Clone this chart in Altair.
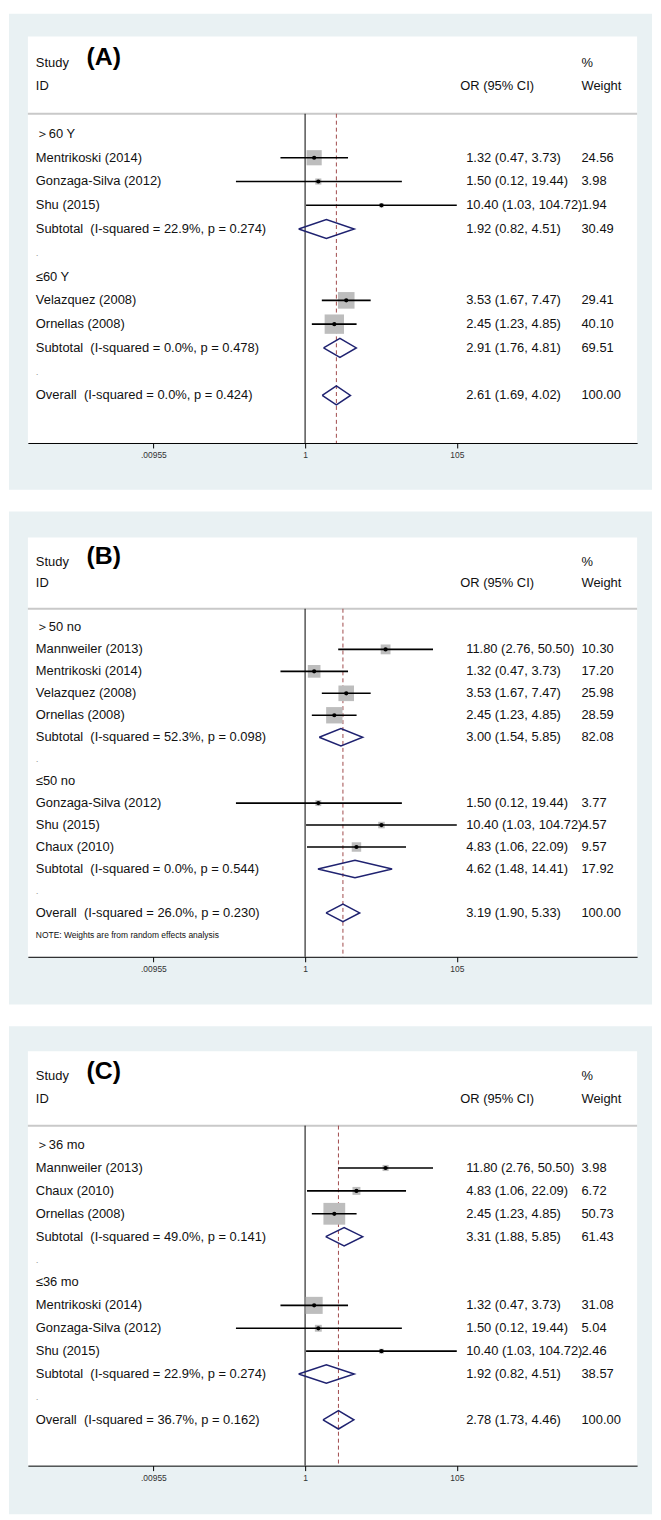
import math
import altair as alt
import pandas as pd

# ---------------- data ----------------
NB = "\u00a0"  # keeps the double space after Subtotal / Overall
A_labels = ["＞60 Y", "Mentrikoski (2014)", "Gonzaga-Silva (2012)", "Shu (2015)",
            "Subtotal " + NB + "(I-squared = 22.9%, p = 0.274)", ".", "≤60 Y",
            "Velazquez (2008)", "Ornellas (2008)",
            "Subtotal " + NB + "(I-squared = 0.0%, p = 0.478)", ".",
            "Overall " + NB + "(I-squared = 0.0%, p = 0.424)"]
A_kind = ["head", "study", "study", "study", "sub", "dot", "head", "study", "study", "sub", "dot", "overall"]
A_or = [None, 1.32, 1.50, 10.40, 1.92, None, None, 3.53, 2.45, 2.91, None, 2.61]
A_lo = [None, 0.47, 0.12, 1.03, 0.82, None, None, 1.67, 1.23, 1.76, None, 1.69]
A_hi = [None, 3.73, 19.44, 104.72, 4.51, None, None, 7.47, 4.85, 4.81, None, 4.02]
A_wt = [None, 24.56, 3.98, 1.94, 30.49, None, None, 29.41, 40.10, 69.51, None, 100.00]

B_labels = ["＞50 no", "Mannweiler (2013)", "Mentrikoski (2014)", "Velazquez (2008)", "Ornellas (2008)",
            "Subtotal " + NB + "(I-squared = 52.3%, p = 0.098)", ".", "≤50 no",
            "Gonzaga-Silva (2012)", "Shu (2015)", "Chaux (2010)",
            "Subtotal " + NB + "(I-squared = 0.0%, p = 0.544)", ".",
            "Overall " + NB + "(I-squared = 26.0%, p = 0.230)"]
B_kind = ["head", "study", "study", "study", "study", "sub", "dot", "head", "study", "study", "study", "sub", "dot", "overall"]
B_or = [None, 11.80, 1.32, 3.53, 2.45, 3.00, None, None, 1.50, 10.40, 4.83, 4.62, None, 3.19]
B_lo = [None, 2.76, 0.47, 1.67, 1.23, 1.54, None, None, 0.12, 1.03, 1.06, 1.48, None, 1.90]
B_hi = [None, 50.50, 3.73, 7.47, 4.85, 5.85, None, None, 19.44, 104.72, 22.09, 14.41, None, 5.33]
B_wt = [None, 10.30, 17.20, 25.98, 28.59, 82.08, None, None, 3.77, 4.57, 9.57, 17.92, None, 100.00]

C_labels = ["＞36 mo", "Mannweiler (2013)", "Chaux (2010)", "Ornellas (2008)",
            "Subtotal " + NB + "(I-squared = 49.0%, p = 0.141)", ".", "≤36 mo",
            "Mentrikoski (2014)", "Gonzaga-Silva (2012)", "Shu (2015)",
            "Subtotal " + NB + "(I-squared = 22.9%, p = 0.274)", ".",
            "Overall " + NB + "(I-squared = 36.7%, p = 0.162)"]
C_kind = ["head", "study", "study", "study", "sub", "dot", "head", "study", "study", "study", "sub", "dot", "overall"]
C_or = [None, 11.80, 4.83, 2.45, 3.31, None, None, 1.32, 1.50, 10.40, 1.92, None, 2.78]
C_lo = [None, 2.76, 1.06, 1.23, 1.88, None, None, 0.47, 0.12, 1.03, 0.82, None, 1.73]
C_hi = [None, 50.50, 22.09, 4.85, 5.85, None, None, 3.73, 19.44, 104.72, 4.51, None, 4.46]
C_wt = [None, 3.98, 6.72, 50.73, 61.43, None, None, 31.08, 5.04, 2.46, 38.57, None, 100.00]

TICK_VALUES = [0.00955, 1, 105]
TICK_LABELS = [".00955", "1", "105"]
NOTE = "NOTE: Weights are from random effects analysis"

# ---------------- style ----------------
FONT = "Liberation Sans"
FRAME = "#e9f1f3"
NAVY = "#1f2270"
RED = "#a04a4c"
BOX = "#bdbdbd"
W = 613
XMIN, XMAX = math.exp(-8.5), math.exp(10.18)
xscale = alt.Scale(type="log", domain=[XMIN, XMAX], nice=False)
label_expr = ("datum.value < 0.5 ? '%s' : (datum.value < 10 ? '%s' : '%s')"
              % tuple(TICK_LABELS))
xaxis = alt.Axis(values=TICK_VALUES, labelExpr=label_expr, title=None, grid=False,
                 domainColor="#000000", domainWidth=1, tickColor="#000000", tickSize=5,
                 labelFontSize=8.5, labelColor="#333333", labelFont=FONT, labelPadding=3,
                 zindex=1)


def fmt(v):
    return "" if v is None else f"{v:.2f}"


def panel(tag, labels, kind, ors, los, his, wts, H, nbottom, box_max_area,
          top_ext, bot_ext, note=None):
    yscale = alt.Scale(domain=[-4.1, nbottom], reverse=True, nice=False, zero=False)

    def X(f):
        return alt.X(f, type="quantitative", scale=xscale, axis=xaxis)

    def Y(f):
        return alt.Y(f, type="quantitative", scale=yscale, axis=None)

    rows = pd.DataFrame({
        "row": list(range(len(labels))), "label": labels, "kind": kind,
        "or": ors, "lo": los, "hi": his, "wt": wts,
    })
    rows["ortext"] = [("" if o is None else f"{o:.2f} ({l:.2f}, {h:.2f})")
                      for o, l, h in zip(ors, los, his)]
    rows["wtext"] = [fmt(w) for w in wts]
    studies = rows[rows["kind"] == "study"].copy()
    pooled = rows[rows["kind"].isin(["sub", "overall"])]
    overall = rows[rows["kind"] == "overall"].iloc[0]

    # diamond outlines from pooled estimates
    dpts = []
    for _, r in pooled.iterrows():
        for k, (xv, dy) in enumerate([(r["lo"], 0), (r["or"], -0.4), (r["hi"], 0),
                                      (r["or"], 0.4), (r["lo"], 0)]):
            dpts.append({"id": int(r["row"]), "k": k, "x": xv, "y": r["row"] + dy})
    dia = pd.DataFrame(dpts)

    one = pd.DataFrame({"a": [0]})
    frame = alt.Chart(one).mark_rect(color=FRAME).encode(
        x=alt.value(-19), x2=alt.value(W + 15), y=alt.value(-top_ext), y2=alt.value(H + bot_ext))
    white = alt.Chart(one).mark_rect(color="#ffffff").encode(
        x=alt.value(0), x2=alt.value(W), y=alt.value(0), y2=alt.value(H))

    sep = alt.Chart(pd.DataFrame({"y": [-0.85]})).mark_rule(color="#c9c9c9", strokeWidth=2).encode(
        y=Y("y"), x=alt.value(0), x2=alt.value(W))

    vlines = pd.DataFrame({"x": [1.0], "y0": [-0.85], "y1": [nbottom]})
    null_line = alt.Chart(vlines).mark_rule(color="#000000", strokeWidth=1).encode(
        x=X("x"), y=Y("y0"), y2=alt.Y2("y1"))
    ov = pd.DataFrame({"x": [overall["or"]], "y0": [-0.85], "y1": [nbottom]})
    ov_line = alt.Chart(ov).mark_rule(color=RED, strokeWidth=1, strokeDash=[4, 3]).encode(
        x=X("x"), y=Y("y0"), y2=alt.Y2("y1"))

    maxw = max(studies["wt"])
    boxes = alt.Chart(studies).mark_square(color=BOX, opacity=1).encode(
        x=X("or"), y=Y("row"),
        size=alt.Size("wt:Q", scale=alt.Scale(domain=[0, maxw], range=[0, box_max_area]), legend=None))
    ci = alt.Chart(studies).mark_rule(color="#000000", strokeWidth=1.6).encode(
        x=X("lo"), x2=alt.X2("hi"), y=Y("row"))
    dots = alt.Chart(studies).mark_circle(color="#000000", size=18, opacity=1).encode(
        x=X("or"), y=Y("row"))
    diamonds = alt.Chart(dia).mark_line(color=NAVY, strokeWidth=1.5).encode(
        x=X("x"), y=Y("y"), detail="id:N", order="k:Q")

    main_rows = rows[rows["kind"] != "dot"]
    dot_rows = rows[rows["kind"] == "dot"]
    txt = dict(font=FONT, fontSize=13, baseline="middle", align="left", color="#111111")
    left = alt.Chart(main_rows).mark_text(**txt).encode(x=alt.value(8), y=Y("row"), text="label:N")
    dotlab = alt.Chart(dot_rows).mark_text(**{**txt, "color": "#9a9a9a", "fontSize": 10}).encode(
        x=alt.value(8), y=Y("row"), text="label:N")
    ortx = alt.Chart(rows).mark_text(**txt).encode(x=alt.value(441), y=Y("row"), text="ortext:N")
    wtx = alt.Chart(rows).mark_text(**txt).encode(x=alt.value(557), y=Y("row"), text="wtext:N")

    hdr = pd.DataFrame({
        "t": ["Study", "ID", "OR (95% CI)", "%", "Weight"],
        "y": [-3, -2, -2, -3, -2],
        "xp": [8, 8, 435, 557, 557],
    })
    hdr_layers = [alt.Chart(hdr.iloc[[i]]).mark_text(**txt).encode(
        x=alt.value(int(hdr["xp"].iloc[i])), y=Y("y"), text="t:N") for i in range(len(hdr))]
    tag_l = alt.Chart(pd.DataFrame({"t": [tag], "y": [-3.25]})).mark_text(
        font=FONT, fontSize=25, fontWeight="bold", align="left", baseline="middle",
        color="#000000").encode(x=alt.value(59), y=Y("y"), text="t:N")

    layers = [frame, white, sep, null_line, ov_line, boxes, ci, dots, diamonds,
              left, dotlab, ortx, wtx, tag_l] + hdr_layers
    if note:
        nd = pd.DataFrame({"t": [note], "y": [nbottom - 1]})
        layers.append(alt.Chart(nd).mark_text(font=FONT, fontSize=8.5, align="left",
                                              baseline="middle", color="#111111").encode(
            x=alt.value(8), y=Y("y"), text="t:N"))
    return alt.layer(*layers).properties(width=W, height=H)


pA = panel("(A)", A_labels, A_kind, A_or, A_lo, A_hi, A_wt, 409, 13, 481, 23, 47)
pB = panel("(B)", B_labels, B_kind, B_or, B_lo, B_hi, B_wt, 422, 15, 169, 26, 48, note=NOTE)
pC = panel("(C)", C_labels, C_kind, C_or, C_lo, C_hi, C_wt, 417, 14, 522, 25, 49)

chart = alt.vconcat(pA, pB, pC, spacing=20).properties(padding=0).configure_view(
    stroke=None).configure(font=FONT)

chart.save("out.html", embed_options={"renderer": "svg", "actions": False})
